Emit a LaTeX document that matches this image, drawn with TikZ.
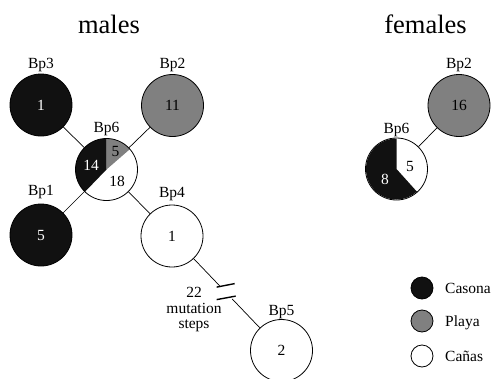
\documentclass[tikz,border=0pt]{standalone}
\usepackage{fontspec}
\setmainfont{Liberation Serif}
\usetikzlibrary{calc}
\definecolor{casona}{HTML}{111111}
\definecolor{playa}{HTML}{808080}
\begin{document}
\begin{tikzpicture}[x=1pt,y=1pt,
  hap/.style={circle,draw=black,line width=0.8pt,inner sep=0pt,minimum size=62pt,font=\fontsize{15.5}{16}\selectfont},
  legc/.style={circle,draw=black,line width=0.8pt,inner sep=0pt,minimum size=22pt},
  edge/.style={line width=0.7pt},
  brk/.style={line width=1.4pt},
  lab/.style={anchor=base,inner sep=0pt,font=\fontsize{15.5}{16}\selectfont},
  num/.style={inner sep=0pt,font=\fontsize{15.5}{16}\selectfont},
  ttl/.style={anchor=base,inner sep=0pt,font=\fontsize{26.5}{28}\selectfont}
]
\useasboundingbox (0,0) rectangle (501,-378);

% titles
\node[ttl] (tm) at (109,-33) {males};
\node[ttl] (tf) at (425.5,-33) {females};

% ---------- males ----------
\node[hap,fill=casona,text=white] (Bp3) at (41,-105) {1};
\node[lab] (Bp3l) at (41,-68) {Bp3};

\node[hap,fill=playa] (Bp2) at (172.5,-105.5) {11};
\node[lab] (Bp2l) at (172.5,-68) {Bp2};

\coordinate (c6) at (106.5,-169.5);
\fill[casona] (c6) -- ++(90:31) arc[start angle=90,end angle=226,radius=31] -- cycle;
\fill[playa] (c6) -- ++(41:31) arc[start angle=41,end angle=90,radius=31] -- cycle;
\node[hap] (Bp6) at (c6) {};
\node[lab] (Bp6l) at (106.5,-132) {Bp6};
\node[num,text=white] (n14) at (91,-165.5) {14};
\node[num] (n5) at (115.5,-151) {5};
\node[num] (n18) at (117,-181.5) {18};

\node[hap,fill=casona,text=white] (Bp1) at (41,-235) {5};
\node[lab] (Bp1l) at (41,-195) {Bp1};

\node[hap] (Bp4) at (172,-236) {1};
\node[lab] (Bp4l) at (172,-197) {Bp4};

\node[hap] (Bp5) at (281.5,-350.5) {2};
\node[lab] (Bp5l) at (281.5,-315) {Bp5};

\draw[edge] (Bp3) -- (Bp6);
\draw[edge] (Bp2) -- (Bp6);
\draw[edge] (Bp1) -- (Bp6);
\draw[edge] (Bp6) -- (Bp4);

% broken edge Bp4 -- Bp5
\coordinate (b1) at ($(Bp4.center)!0.435!(Bp5.center)$);
\coordinate (b2) at ($(Bp4.center)!0.55!(Bp5.center)$);
\coordinate (bm) at ($(Bp4.center)!0.49!(Bp5.center)$);
\draw[edge] (Bp4) -- (b1);
\draw[edge] (b2) -- (Bp5);
\draw[brk] ($(bm)+(-9,5)$) -- ($(bm)+(9,8.5)$);
\draw[brk] ($(bm)+(-9,-7.5)$) -- ($(bm)+(10,-4)$);
\node[num,align=center,font=\fontsize{15.5}{15.5}\selectfont] (mut) at (194,-310) {22\\mutation\\steps};

% ---------- females ----------
\node[hap,fill=playa] (Bp2f) at (459,-105.5) {16};
\node[lab] (Bp2fl) at (459,-68) {Bp2};

\coordinate (c6f) at (396.5,-169);
\fill[casona] (c6f) -- ++(90:30.5) arc[start angle=90,end angle=312,radius=30.5] -- cycle;
\node[hap] (Bp6f) at (c6f) {};
\node[lab] (Bp6fl) at (396.5,-133) {Bp6};
\node[num] (f5) at (410,-166) {5};
\node[num,text=white] (f8) at (385,-179) {8};

\draw[edge] (Bp6f) -- (Bp2f);

% ---------- legend ----------
\node[legc,fill=casona] (lc) at (422,-288) {};
\node[lab,anchor=base west] (lct) at (445,-293) {Casona};
\node[legc,fill=playa] (lp) at (422,-321) {};
\node[lab,anchor=base west] (lpt) at (445,-326) {Playa};
\node[legc,fill=white] (lw) at (422,-356) {};
\node[lab,anchor=base west] (lwt) at (445,-361) {Cañas};
\end{tikzpicture}
\end{document}
